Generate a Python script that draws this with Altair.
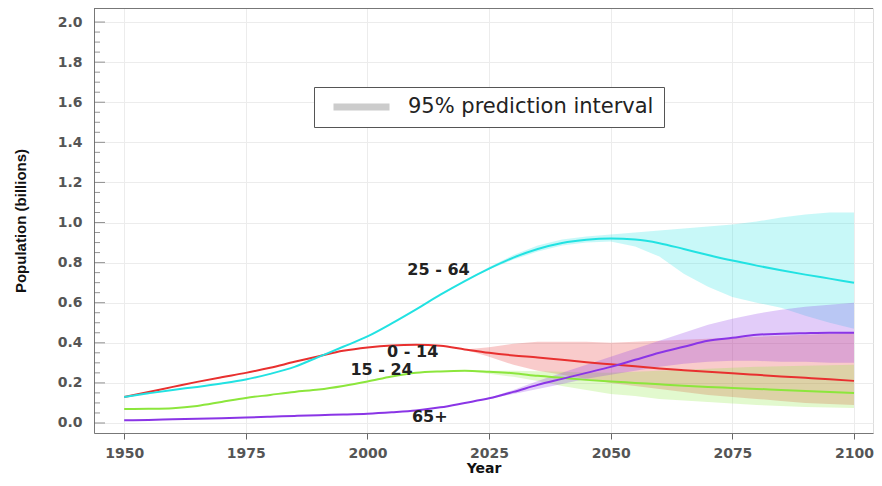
import altair as alt
import pandas as pd

# ---------------- data ----------------
years = [1950, 1955, 1960, 1965, 1970, 1975, 1980, 1985, 1990, 1995, 2000,
         2005, 2010, 2015, 2020, 2025, 2030, 2035, 2040, 2045, 2050,
         2055, 2060, 2065, 2070, 2075, 2080, 2085, 2090, 2095, 2100]

pop_0_14 = [0.13, 0.155, 0.18, 0.205, 0.228, 0.25, 0.275, 0.305, 0.333, 0.36, 0.377,
            0.387, 0.39, 0.385, 0.367, 0.35, 0.337, 0.327, 0.315, 0.303, 0.293,
            0.283, 0.272, 0.263, 0.255, 0.248, 0.24, 0.232, 0.225, 0.218, 0.21]
pop_15_24 = [0.07, 0.071, 0.074, 0.085, 0.105, 0.125, 0.14, 0.155, 0.167, 0.185, 0.207,
             0.232, 0.25, 0.257, 0.26, 0.255, 0.248, 0.235, 0.225, 0.215, 0.207,
             0.2, 0.193, 0.186, 0.18, 0.175, 0.17, 0.165, 0.16, 0.155, 0.15]
pop_25_64 = [0.13, 0.148, 0.165, 0.18, 0.197, 0.217, 0.245, 0.28, 0.33, 0.38, 0.432,
             0.497, 0.567, 0.64, 0.708, 0.77, 0.825, 0.868, 0.898, 0.914, 0.92,
             0.915, 0.897, 0.868, 0.838, 0.81, 0.785, 0.762, 0.74, 0.72, 0.70]
pop_65 = [0.013, 0.015, 0.018, 0.021, 0.024, 0.027, 0.031, 0.035, 0.039, 0.042, 0.046,
          0.053, 0.062, 0.078, 0.10, 0.123, 0.155, 0.19, 0.22, 0.25, 0.28,
          0.315, 0.35, 0.38, 0.41, 0.425, 0.44, 0.445, 0.448, 0.45, 0.45]

band_years = [2020, 2025, 2030, 2035, 2040, 2045, 2050, 2055, 2060,
              2065, 2070, 2075, 2080, 2085, 2090, 2095, 2100]
lo_0_14 = [0.367, 0.33, 0.29, 0.26, 0.24, 0.22, 0.2, 0.185, 0.17,
           0.155, 0.14, 0.13, 0.12, 0.11, 0.1, 0.095, 0.09]
hi_0_14 = [0.367, 0.378, 0.395, 0.405, 0.405, 0.405, 0.40, 0.405, 0.41,
           0.415, 0.42, 0.425, 0.43, 0.435, 0.44, 0.445, 0.45]
lo_15_24 = [0.26, 0.245, 0.23, 0.21, 0.185, 0.165, 0.145, 0.135, 0.12,
            0.112, 0.105, 0.097, 0.09, 0.085, 0.08, 0.077, 0.075]
hi_15_24 = [0.26, 0.26, 0.26, 0.258, 0.255, 0.252, 0.25, 0.255, 0.26,
            0.265, 0.27, 0.275, 0.28, 0.283, 0.285, 0.288, 0.29]
lo_25_64 = [0.708, 0.765, 0.815, 0.855, 0.885, 0.9, 0.905, 0.88, 0.83,
            0.745, 0.68, 0.628, 0.60, 0.575, 0.535, 0.50, 0.47]
hi_25_64 = [0.708, 0.778, 0.838, 0.885, 0.915, 0.93, 0.94, 0.95, 0.96,
            0.97, 0.98, 0.99, 1.005, 1.025, 1.04, 1.05, 1.05]
lo_65 = [0.10, 0.12, 0.145, 0.17, 0.195, 0.22, 0.24, 0.26, 0.28,
         0.295, 0.305, 0.31, 0.31, 0.305, 0.305, 0.30, 0.30]
hi_65 = [0.10, 0.125, 0.165, 0.21, 0.25, 0.29, 0.33, 0.37, 0.41,
         0.45, 0.49, 0.52, 0.545, 0.565, 0.58, 0.59, 0.60]

groups = ["0 - 14", "15 - 24", "25 - 64", "65+"]
line_colors = ["#e8302f", "#8ce63c", "#22e2e2", "#8a35e6"]

label_text = ["25 - 64", "0 - 14", "15 - 24", "65+"]
label_year = [2014.6, 2009.3, 2002.9, 2012.8]
label_value = [0.763, 0.352, 0.262, 0.028]

x_ticks = [1950, 1975, 2000, 2025, 2050, 2075, 2100]
y_major = [0.0, 0.2, 0.4, 0.6, 0.8, 1.0, 1.2, 1.4, 1.6, 1.8, 2.0]
y_minor = [0.05, 0.1, 0.15, 0.25, 0.3, 0.35, 0.45, 0.5, 0.55, 0.65, 0.7, 0.75,
           0.85, 0.9, 0.95, 1.05, 1.1, 1.15, 1.25, 1.3, 1.35, 1.45, 1.5, 1.55,
           1.65, 1.7, 1.75, 1.85, 1.9, 1.95]

legend_label = "95% prediction interval"

# ---------------- tables ----------------
series = [pop_0_14, pop_15_24, pop_25_64, pop_65]
lows = [lo_0_14, lo_15_24, lo_25_64, lo_65]
highs = [hi_0_14, hi_15_24, hi_25_64, hi_65]

lines_df = pd.DataFrame([
    {"year": y, "value": v, "group": g}
    for g, s in zip(groups, series) for y, v in zip(years, s)
])
bands_df = pd.DataFrame([
    {"year": y, "lo": a, "hi": b, "group": g}
    for g, lo, hi in zip(groups, lows, highs)
    for y, a, b in zip(band_years, lo, hi)
])
labels_df = pd.DataFrame({"year": label_year, "value": label_value, "text": label_text})
major_df = pd.DataFrame({"v": y_major})
minor_df = pd.DataFrame({"v": y_minor})
legend_df = pd.DataFrame({"year": [2000.0], "value": [1.0], "label": [legend_label]})

W, H = 779, 425
FONT = "DejaVu Sans"

xscale = alt.Scale(domain=[1943.8, 2103.9], nice=False, zero=False)
yscale = alt.Scale(domain=[-0.05, 2.07], nice=False, zero=False)
cscale = alt.Scale(domain=groups, range=line_colors)

x_enc = alt.X("year:Q", scale=xscale,
              axis=alt.Axis(values=x_ticks, format="d", title="Year",
                            grid=True, gridColor="#ececec",
                            tickSize=6, tickColor="#666", domainColor="#777",
                            labelFont=FONT, labelFontSize=14, labelFontWeight="bold",
                            labelColor="#555", labelPadding=7,
                            titleFont=FONT, titleFontSize=14, titleFontWeight="bold",
                            titleColor="#111", titlePadding=1))
y_axis = alt.Axis(values=y_major, format=".1f", title="Population (billions)",
                  grid=True, gridColor="#ececec", tickSize=0, domainColor="#777",
                  labelFont=FONT, labelFontSize=14, labelFontWeight="bold",
                  labelColor="#555", labelPadding=12,
                  titleFont="Liberation Sans", titleFontSize=15, titleFontWeight="bold",
                  titleColor="#111", titlePadding=29)

bands = alt.Chart(bands_df).mark_area(opacity=0.25).encode(
    x=x_enc,
    y=alt.Y("lo:Q", scale=yscale, axis=y_axis),
    y2="hi:Q",
    color=alt.Color("group:N", scale=cscale, legend=None),
    detail="group:N",
)

lines = alt.Chart(lines_df).mark_line(strokeWidth=2, interpolate="monotone").encode(
    x="year:Q",
    y="value:Q",
    color=alt.Color("group:N", scale=cscale, legend=None),
)

labels = alt.Chart(labels_df).mark_text(font=FONT, fontSize=16, fontWeight="bold",
                                        color="#222").encode(
    x="year:Q", y="value:Q", text="text:N")

major_ticks = alt.Chart(major_df).mark_tick(orient="horizontal", size=11, thickness=1,
                                            color="#666").encode(
    y="v:Q", x=alt.value(5.5))
minor_ticks = alt.Chart(minor_df).mark_tick(orient="horizontal", size=6, thickness=1,
                                            color="#666").encode(
    y="v:Q", x=alt.value(3))

top_border = alt.Chart(legend_df).mark_rule(color="#777", strokeWidth=1).encode(
    x=alt.value(0), x2=alt.value(W), y=alt.value(0.5))

legend_layer = alt.Chart(legend_df).mark_line(opacity=0).encode(
    x="year:Q", y="value:Q",
    stroke=alt.Stroke("label:N", scale=alt.Scale(range=["#cccccc"]),
                      legend=alt.Legend(orient="none", legendX=220, legendY=79,
                                        title=None, strokeColor="#555",
                                        fillColor="white", padding=10,
                                        symbolType="stroke", symbolSize=3136,
                                        symbolStrokeWidth=7, symbolOpacity=1,
                                        symbolOffset=6, clipHeight=20,
                                        labelOffset=15, labelFont=FONT,
                                        labelFontSize=21, labelColor="#222",
                                        labelLimit=400)),
)

chart = alt.layer(bands, lines, labels, major_ticks, minor_ticks, top_border,
                  legend_layer).properties(
    width=W, height=H,
    padding={"left": 5, "top": 0, "right": 0, "bottom": 0},
).configure_view(strokeWidth=0).configure(background="white")

chart.save("out.html", embed_options={"renderer": "svg", "actions": False})
